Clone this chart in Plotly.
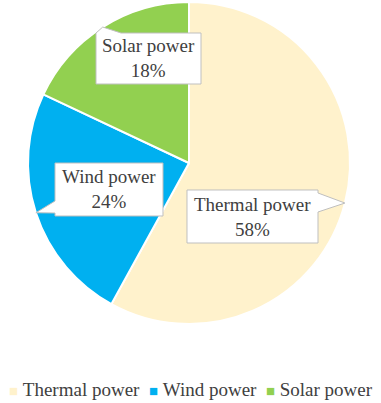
import math
import plotly.graph_objects as go

# ---- data ----
labels = ["Thermal power", "Wind power", "Solar power"]
values = [58, 24, 18]
colors = ["#FFF2CC", "#00B0F0", "#92D050"]

# ---- layout constants (pixels) ----
W, H = 381, 403
CX, CY, R = 189, 163, 161          # pie centre / radius in px
FONT = "Liberation Serif"
TXT = "#404040"

# callout boxes: (x0, y0, x1, y1), pointer side, base segment (a, b)
boxes = {
    "Thermal power": ((187, 190, 318, 243), "right", (193, 212)),
    "Wind power": ((55, 163, 163, 216), "left", (201, 213)),
    "Solar power": ((96, 33, 201, 84), "top", (96, 121)),
}


def px(x):
    return x / W


def py(y):
    return 1 - y / H


fig = go.Figure(
    go.Pie(
        labels=labels,
        values=values,
        marker=dict(colors=colors, line=dict(color="white", width=2)),
        sort=False,
        direction="clockwise",
        rotation=0,
        textinfo="none",
        hoverinfo="label+percent",
        showlegend=False,
        domain=dict(x=[px(CX - R), px(CX + R)], y=[py(CY + R), py(CY - R)]),
    )
)

total = sum(values)
cum = 0
shapes = []
annotations = []
for lab, v in zip(labels, values):
    mid = (cum + v / 2) / total * 2 * math.pi
    cum += v
    tx = CX + R * math.sin(mid)
    ty = CY - R * math.cos(mid)
    (x0, y0, x1, y1), side, (a, b) = boxes[lab]
    pts = [(x0, y0)]
    if side == "top":
        pts += [(a, y0), (tx, ty), (b, y0)]
    pts.append((x1, y0))
    if side == "right":
        pts += [(x1, a), (tx, ty), (x1, b)]
    pts.append((x1, y1))
    pts.append((x0, y1))
    if side == "left":
        pts += [(x0, b), (tx, ty), (x0, a)]
    path = "M " + " L ".join(f"{px(x):.5f},{py(y):.5f}" for x, y in pts) + " Z"
    shapes.append(dict(type="path", xref="paper", yref="paper", path=path,
                       fillcolor="white", line=dict(color="#BFBFBF", width=1),
                       layer="above"))
    pct = f"{v / total * 100:.0f}%"
    annotations.append(dict(
        x=px((x0 + x1) / 2), y=py((y0 + y1) / 2), xref="paper", yref="paper",
        text=f"{lab}<br>{pct}", showarrow=False, align="center",
        xanchor="center", yanchor="middle",
        font=dict(family=FONT, size=19, color=TXT),
    ))

# legend line built from labels/colours
parts = []
for lab, c in zip(labels, colors):
    parts.append(f"<span style='color:{c};font-size:15px'>■</span>\u00a0{lab}")
legend_text = "\u00a0\u00a0".join(parts)
annotations.append(dict(
    x=0.5, y=py(389), xref="paper", yref="paper", text=legend_text,
    showarrow=False, xanchor="center", yanchor="middle",
    font=dict(family=FONT, size=19, color=TXT),
))

fig.update_layout(
    width=W, height=H,
    margin=dict(l=0, r=0, t=0, b=0),
    paper_bgcolor="white", plot_bgcolor="white",
    shapes=shapes, annotations=annotations,
    showlegend=False,
)

fig.write_html(
    "out.html",
    config={"displayModeBar": False},
    post_script="document.body.style.margin='0';document.body.style.overflow='hidden';",
)
